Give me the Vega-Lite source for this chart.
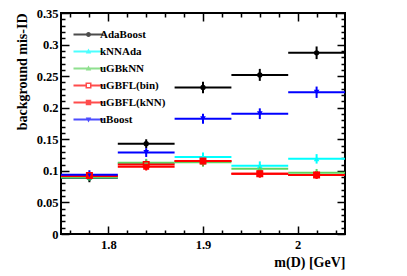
{
  "$schema": "https://vega.github.io/schema/vega-lite/v6.json",
  "autosize": "none",
  "width": 284,
  "height": 221,
  "padding": {"left": 61, "top": 13, "right": 62, "bottom": 42},
  "background": "white",
  "config": {
    "view": {"stroke": "black", "strokeWidth": 2},
    "font": "Liberation Serif",
    "axis": {"grid": false, "domain": false, "tickColor": "black", "tickWidth": 1.5, "labelFont": "Liberation Serif", "labelFontWeight": "bold", "labelFontSize": 12.5, "labelColor": "black", "titleFont": "Liberation Serif", "titleFontWeight": "bold", "titleFontSize": 14, "titleColor": "black"}
  },
  "data": {"values": [
    {"model": "AdaBoost", "lo": 1.75, "hi": 1.81, "m": 1.78, "v": 0.089, "vlo": 0.082, "vhi": 0.096},
    {"model": "AdaBoost", "lo": 1.81, "hi": 1.87, "m": 1.84, "v": 0.143, "vlo": 0.136, "vhi": 0.150},
    {"model": "AdaBoost", "lo": 1.87, "hi": 1.93, "m": 1.90, "v": 0.232, "vlo": 0.223, "vhi": 0.241},
    {"model": "AdaBoost", "lo": 1.93, "hi": 1.99, "m": 1.96, "v": 0.252, "vlo": 0.2425, "vhi": 0.2615},
    {"model": "AdaBoost", "lo": 1.99, "hi": 2.05, "m": 2.02, "v": 0.287, "vlo": 0.277, "vhi": 0.297},
    {"model": "kNNAda", "lo": 1.75, "hi": 1.81, "m": 1.78, "v": 0.090, "vlo": 0.084, "vhi": 0.096},
    {"model": "kNNAda", "lo": 1.81, "hi": 1.87, "m": 1.84, "v": 0.112, "vlo": 0.106, "vhi": 0.118},
    {"model": "kNNAda", "lo": 1.87, "hi": 1.93, "m": 1.90, "v": 0.122, "vlo": 0.115, "vhi": 0.129},
    {"model": "kNNAda", "lo": 1.93, "hi": 1.99, "m": 1.96, "v": 0.108, "vlo": 0.101, "vhi": 0.115},
    {"model": "kNNAda", "lo": 1.99, "hi": 2.05, "m": 2.02, "v": 0.119, "vlo": 0.1115, "vhi": 0.1265},
    {"model": "uGBkNN", "lo": 1.75, "hi": 1.81, "m": 1.78, "v": 0.090, "vlo": 0.084, "vhi": 0.096},
    {"model": "uGBkNN", "lo": 1.81, "hi": 1.87, "m": 1.84, "v": 0.113, "vlo": 0.107, "vhi": 0.119},
    {"model": "uGBkNN", "lo": 1.87, "hi": 1.93, "m": 1.90, "v": 0.1135, "vlo": 0.1065, "vhi": 0.1205},
    {"model": "uGBkNN", "lo": 1.93, "hi": 1.99, "m": 1.96, "v": 0.1035, "vlo": 0.0975, "vhi": 0.1095},
    {"model": "uGBkNN", "lo": 1.99, "hi": 2.05, "m": 2.02, "v": 0.097, "vlo": 0.091, "vhi": 0.103},
    {"model": "uGBFL(bin)", "lo": 1.75, "hi": 1.81, "m": 1.78, "v": 0.0925, "vlo": 0.0865, "vhi": 0.0985},
    {"model": "uGBFL(bin)", "lo": 1.81, "hi": 1.87, "m": 1.84, "v": 0.110, "vlo": 0.104, "vhi": 0.116},
    {"model": "uGBFL(bin)", "lo": 1.87, "hi": 1.93, "m": 1.90, "v": 0.1155, "vlo": 0.109, "vhi": 0.122},
    {"model": "uGBFL(bin)", "lo": 1.93, "hi": 1.99, "m": 1.96, "v": 0.0955, "vlo": 0.0895, "vhi": 0.1015},
    {"model": "uGBFL(bin)", "lo": 1.99, "hi": 2.05, "m": 2.02, "v": 0.0935, "vlo": 0.0875, "vhi": 0.0995},
    {"model": "uGBFL(kNN)", "lo": 1.75, "hi": 1.81, "m": 1.78, "v": 0.092, "vlo": 0.086, "vhi": 0.098},
    {"model": "uGBFL(kNN)", "lo": 1.81, "hi": 1.87, "m": 1.84, "v": 0.1065, "vlo": 0.1005, "vhi": 0.1125},
    {"model": "uGBFL(kNN)", "lo": 1.87, "hi": 1.93, "m": 1.90, "v": 0.1155, "vlo": 0.109, "vhi": 0.122},
    {"model": "uGBFL(kNN)", "lo": 1.93, "hi": 1.99, "m": 1.96, "v": 0.0955, "vlo": 0.0895, "vhi": 0.1015},
    {"model": "uGBFL(kNN)", "lo": 1.99, "hi": 2.05, "m": 2.02, "v": 0.0935, "vlo": 0.0875, "vhi": 0.0995},
    {"model": "uBoost", "lo": 1.75, "hi": 1.81, "m": 1.78, "v": 0.094, "vlo": 0.087, "vhi": 0.101},
    {"model": "uBoost", "lo": 1.81, "hi": 1.87, "m": 1.84, "v": 0.129, "vlo": 0.122, "vhi": 0.136},
    {"model": "uBoost", "lo": 1.87, "hi": 1.93, "m": 1.90, "v": 0.1825, "vlo": 0.1745, "vhi": 0.1905},
    {"model": "uBoost", "lo": 1.93, "hi": 1.99, "m": 1.96, "v": 0.1905, "vlo": 0.182, "vhi": 0.199},
    {"model": "uBoost", "lo": 1.99, "hi": 2.05, "m": 2.02, "v": 0.2245, "vlo": 0.2155, "vhi": 0.2335}
  ]},
  "resolve": {"axis": {"x": "independent", "y": "independent"}},
  "layer": [
    {
      "mark": {"type": "point", "filled": true, "size": 0},
      "encoding": {
        "x": {"field": "m", "type": "quantitative", "scale": {"domain": [1.75, 2.05], "nice": false, "zero": false},
              "axis": {"orient": "bottom", "ticks": false, "values": [1.8, 1.9, 2.0], "format": "~g", "labelPadding": 4, "title": "m(D) [GeV]", "titleX": 284, "titleY": 28, "titleAlign": "right", "titleBaseline": "middle", "titleAnchor": null}},
        "y": {"field": "v", "type": "quantitative", "scale": {"domain": [0, 0.35], "nice": false, "zero": true},
              "axis": {"orient": "left", "ticks": false, "values": [0, 0.05, 0.1, 0.15, 0.2, 0.25, 0.3, 0.35], "format": "~g", "labelPadding": 3, "title": "background mis-ID", "titleX": -39, "titleY": 0, "titleAngle": 270, "titleAlign": "right", "titleBaseline": "middle", "titleAnchor": null}},
        "color": {"field": "model", "type": "nominal",
                  "scale": {"domain": ["AdaBoost", "kNNAda", "uGBkNN", "uGBFL(bin)", "uGBFL(kNN)", "uBoost"], "range": ["#000000", "#00ffff", "#5fd35f", "#ff0000", "#ff0000", "#0000ff"]},
                  "legend": {"orient": "none", "legendX": 22, "legendY": 16, "title": null, "padding": 0, "symbolSize": 100, "symbolStrokeColor": "transparent", "symbolStrokeWidth": 0, "labelOffset": 6, "rowPadding": 5, "labelFont": "Liberation Serif", "labelFontWeight": "bold", "labelFontSize": 11, "labelColor": "black"}},
        "shape": {"field": "model", "type": "nominal",
                  "scale": {"domain": ["AdaBoost", "kNNAda", "uGBkNN", "uGBFL(bin)", "uGBFL(kNN)", "uBoost"],
                            "range": [
                              "M-3,-0.2H3V0.2H-3Z M0.5,0A0.5,0.5,0,1,1,-0.5,0A0.5,0.5,0,1,1,0.5,0Z",
                              "M-3,-0.2H3V0.2H-3Z M0,-0.6L0.55,0.4L-0.55,0.4Z",
                              "M-3,-0.2H3V0.2H-3Z M0,-0.6L0.55,0.4L-0.55,0.4Z",
                              "M-3,-0.2H-0.5V0.2H-3Z M0.5,-0.2H3V0.2H0.5Z M-0.6,-0.6H0.6V0.6H-0.6Z M-0.3,-0.3V0.3H0.3V-0.3Z",
                              "M-3,-0.2H3V0.2H-3Z M-0.55,-0.55H0.55V0.55H-0.55Z",
                              "M-3,-0.2H3V0.2H-3Z M0,0.6L-0.55,-0.4L0.55,-0.4Z"
                            ]},
                  "legend": {"orient": "none", "legendX": 22, "legendY": 16, "title": null, "padding": 0, "symbolSize": 100, "symbolStrokeColor": "transparent", "symbolStrokeWidth": 0, "labelOffset": 6, "rowPadding": 5, "labelFont": "Liberation Serif", "labelFontWeight": "bold", "labelFontSize": 11, "labelColor": "black"}}
      }
    },
    {
      "mark": {"type": "rule", "strokeWidth": 2},
      "encoding": {
        "x": {"field": "lo", "type": "quantitative", "axis": null},
        "x2": {"field": "hi"},
        "y": {"field": "v", "type": "quantitative", "axis": null},
        "color": {"field": "model", "type": "nominal"}
      }
    },
    {
      "mark": {"type": "rule", "strokeWidth": 2},
      "encoding": {
        "x": {"field": "m", "type": "quantitative", "axis": {"orient": "bottom", "labels": false, "title": null, "tickSize": -8, "values": [1.8, 1.9, 2.0]}},
        "y": {"field": "vlo", "type": "quantitative", "axis": {"orient": "left", "labels": false, "title": null, "tickSize": -8, "values": [0, 0.05, 0.1, 0.15, 0.2, 0.25, 0.3, 0.35]}},
        "y2": {"field": "vhi"},
        "color": {"field": "model", "type": "nominal"}
      }
    },
    {
      "transform": [{"filter": "datum.model === 'AdaBoost'"}],
      "mark": {"type": "point", "shape": "circle", "filled": true, "size": 28, "opacity": 1},
      "encoding": {
        "x": {"field": "m", "type": "quantitative", "axis": {"orient": "bottom", "labels": false, "title": null, "tickSize": -4, "values": [1.76, 1.78, 1.82, 1.84, 1.86, 1.88, 1.92, 1.94, 1.96, 1.98, 2.02, 2.04]}},
        "y": {"field": "v", "type": "quantitative", "axis": {"orient": "left", "labels": false, "title": null, "tickSize": -4, "values": [0.01, 0.02, 0.03, 0.04, 0.06, 0.07, 0.08, 0.09, 0.11, 0.12, 0.13, 0.14, 0.16, 0.17, 0.18, 0.19, 0.21, 0.22, 0.23, 0.24, 0.26, 0.27, 0.28, 0.29, 0.31, 0.32, 0.33, 0.34]}},
        "color": {"field": "model", "type": "nominal"}
      }
    },
    {
      "transform": [{"filter": "datum.model === 'kNNAda' || datum.model === 'uGBkNN'"}],
      "mark": {"type": "point", "shape": "triangle-up", "filled": true, "size": 32, "opacity": 1},
      "encoding": {
        "x": {"field": "m", "type": "quantitative", "axis": {"orient": "top", "labels": false, "title": null, "tickSize": -8, "values": [1.8, 1.9, 2.0]}},
        "y": {"field": "v", "type": "quantitative", "axis": {"orient": "right", "labels": false, "title": null, "tickSize": -8, "values": [0, 0.05, 0.1, 0.15, 0.2, 0.25, 0.3, 0.35]}},
        "color": {"field": "model", "type": "nominal"}
      }
    },
    {
      "transform": [{"filter": "datum.model === 'uGBFL(kNN)'"}],
      "mark": {"type": "point", "shape": "square", "filled": true, "size": 36, "opacity": 1},
      "encoding": {
        "x": {"field": "m", "type": "quantitative", "axis": {"orient": "top", "labels": false, "title": null, "tickSize": -4, "values": [1.76, 1.78, 1.82, 1.84, 1.86, 1.88, 1.92, 1.94, 1.96, 1.98, 2.02, 2.04]}},
        "y": {"field": "v", "type": "quantitative", "axis": {"orient": "right", "labels": false, "title": null, "tickSize": -4, "values": [0.01, 0.02, 0.03, 0.04, 0.06, 0.07, 0.08, 0.09, 0.11, 0.12, 0.13, 0.14, 0.16, 0.17, 0.18, 0.19, 0.21, 0.22, 0.23, 0.24, 0.26, 0.27, 0.28, 0.29, 0.31, 0.32, 0.33, 0.34]}},
        "color": {"field": "model", "type": "nominal"}
      }
    },
    {
      "transform": [{"filter": "datum.model === 'uBoost'"}],
      "mark": {"type": "point", "shape": "triangle-down", "filled": true, "size": 32, "opacity": 1},
      "encoding": {
        "x": {"field": "m", "type": "quantitative", "axis": null},
        "y": {"field": "v", "type": "quantitative", "axis": null},
        "color": {"field": "model", "type": "nominal"}
      }
    },
    {
      "transform": [{"filter": "datum.model === 'uGBFL(bin)'"}],
      "mark": {"type": "point", "shape": "square", "filled": false, "size": 30, "strokeWidth": 1.5, "opacity": 1},
      "encoding": {
        "x": {"field": "m", "type": "quantitative", "axis": null},
        "y": {"field": "v", "type": "quantitative", "axis": null},
        "color": {"field": "model", "type": "nominal"}
      }
    }
  ]
}
